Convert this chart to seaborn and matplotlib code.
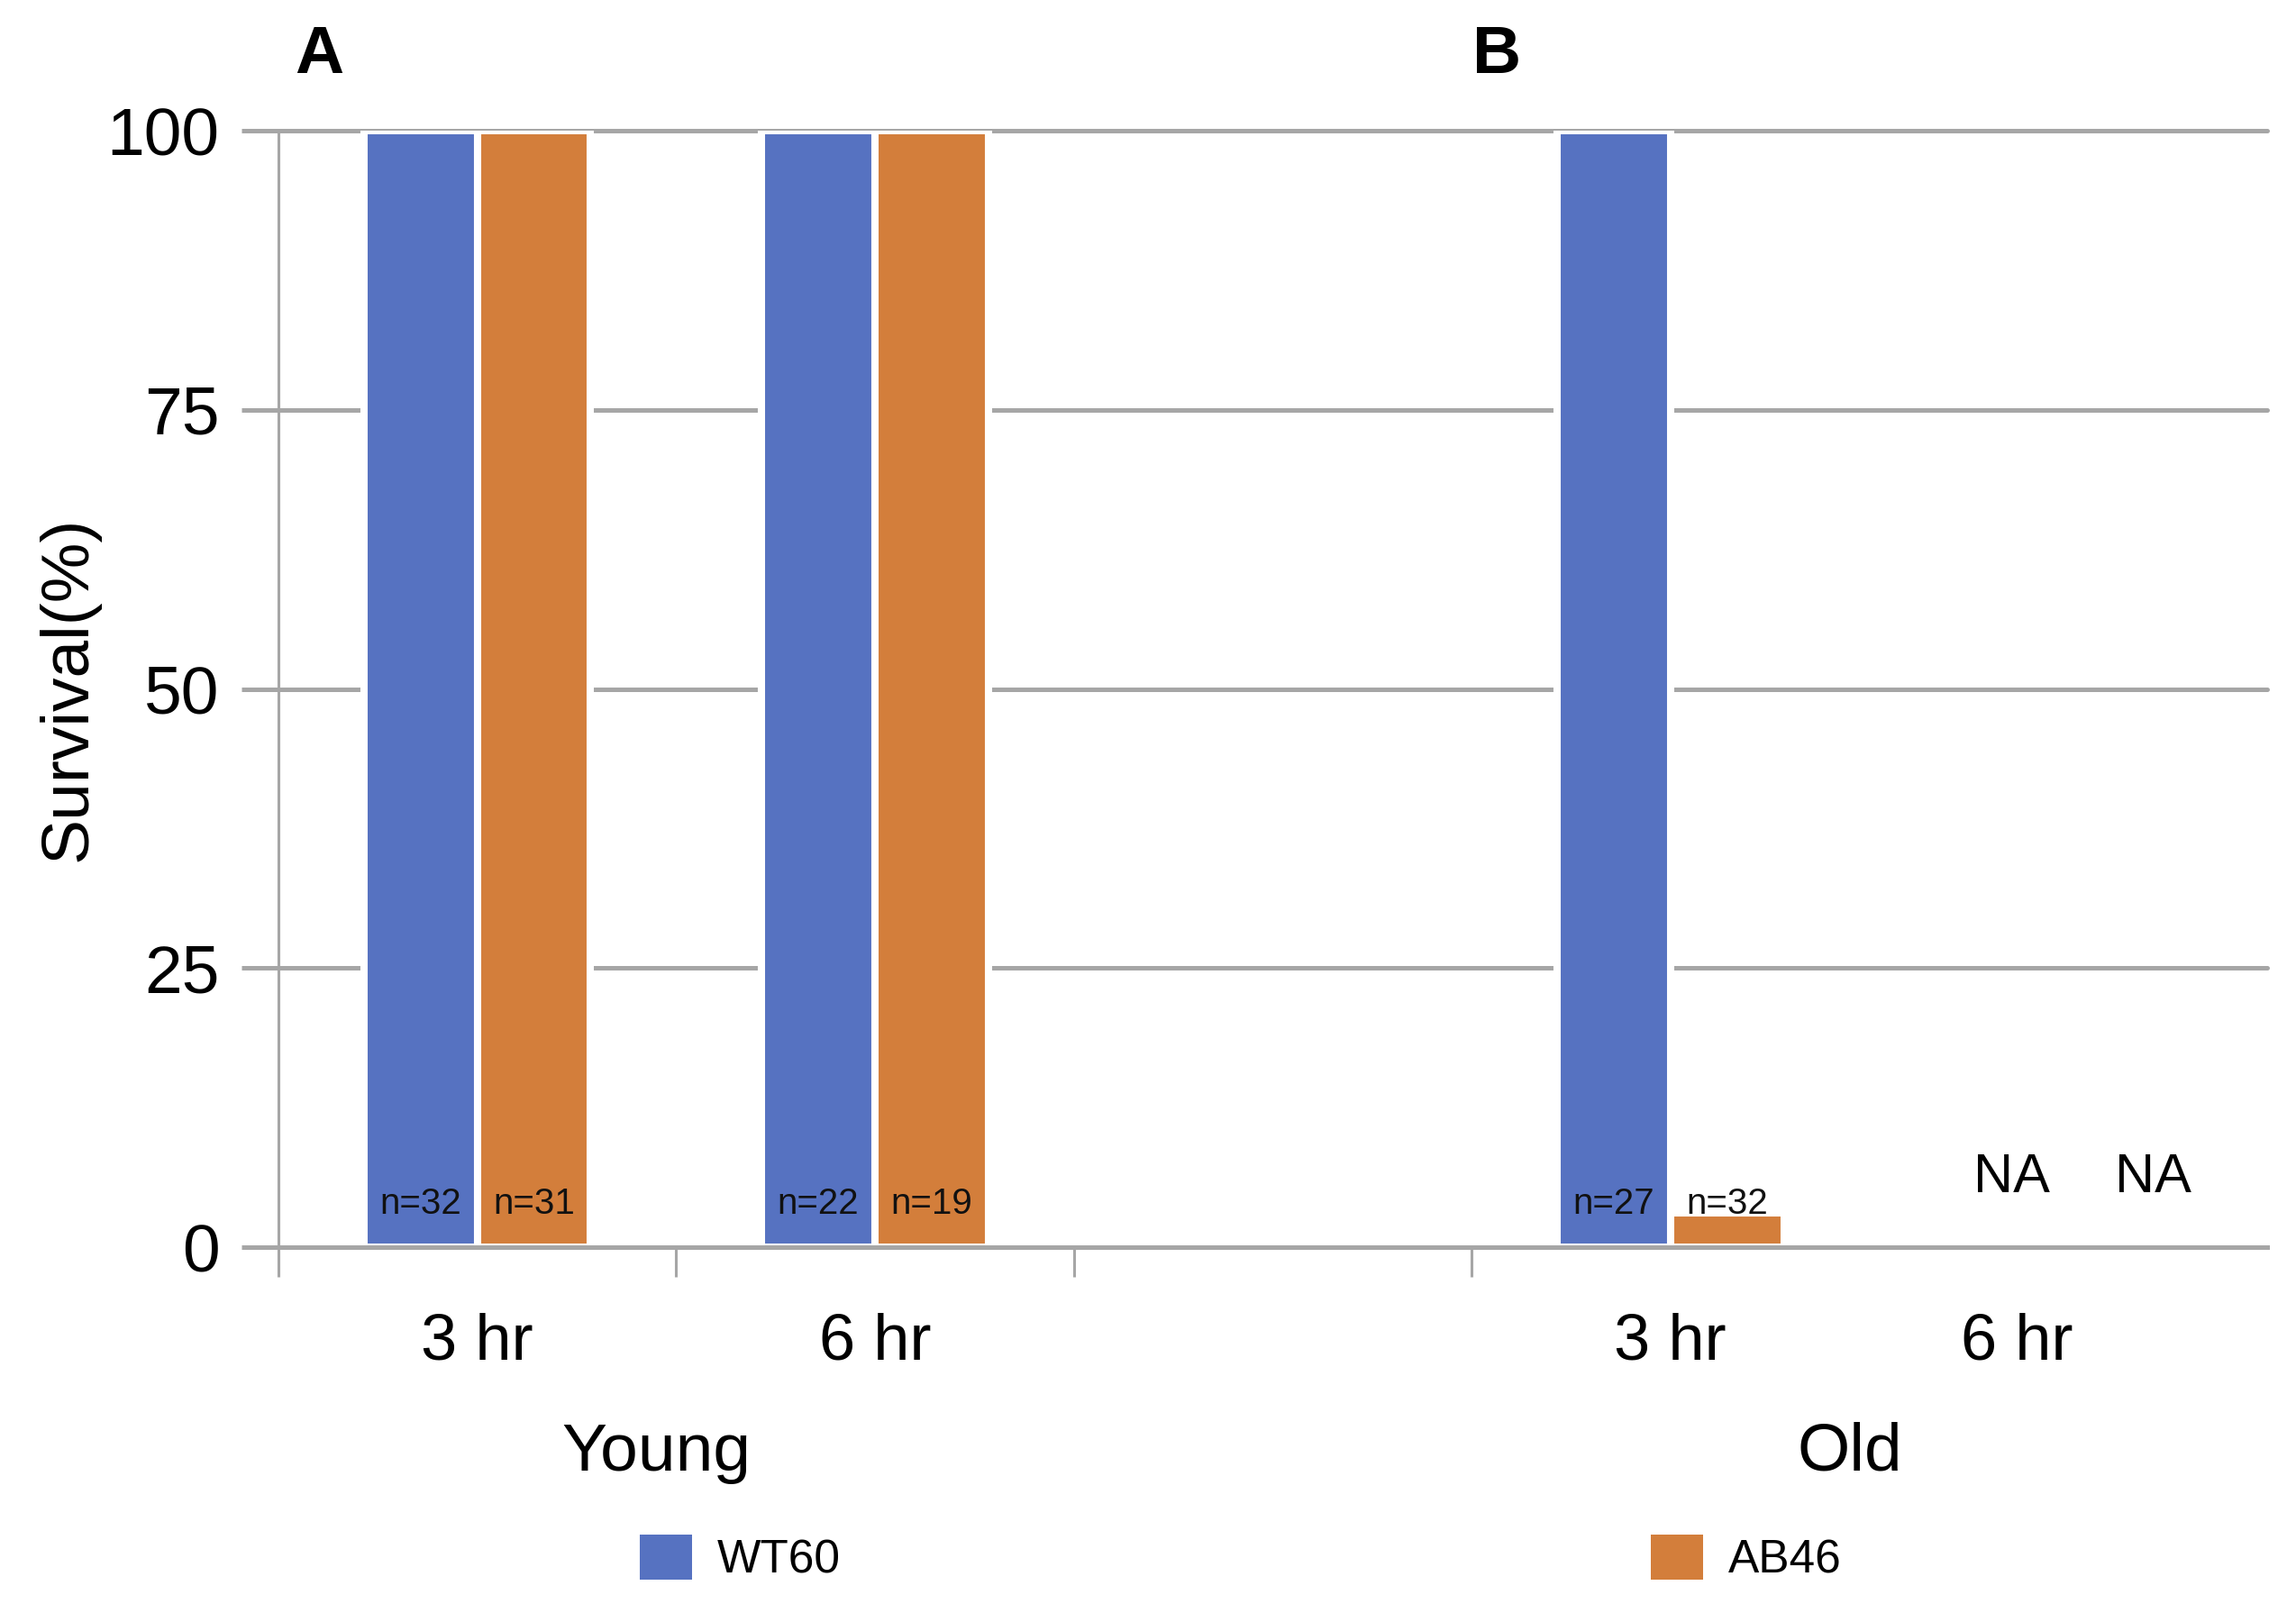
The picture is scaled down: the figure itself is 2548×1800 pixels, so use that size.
import numpy as np
import pandas as pd
import matplotlib
matplotlib.use('Agg')
import matplotlib.pyplot as plt
import matplotlib.transforms as mtransforms
from matplotlib.patches import Patch
import seaborn as sns

# ── data ────────────────────────────────────────────────────────────────
age     = ['Young', 'Young', 'Old', 'Old']
time    = ['3 hr', '6 hr', '3 hr', '6 hr']
wt60    = [100, 100, 100, np.nan]
ab46    = [100, 100, 3.1, np.nan]
n_wt60  = ['n=32', 'n=22', 'n=27', 'NA']
n_ab46  = ['n=31', 'n=19', 'n=32', 'NA']
strains = ['WT60', 'AB46']
colors  = ['#5672C1', '#D37E3B']
yticks  = [0, 25, 50, 75, 100]

slot  = [f'{a} {t}' for a, t in zip(age, time)]
order = slot[:2] + [''] + slot[2:]     # empty slot between the two age groups

df = pd.DataFrame({
    'slot':     slot * 2,
    'strain':   [strains[0]] * 4 + [strains[1]] * 4,
    'survival': wt60 + ab46,
})

GRID = '#A6A6A6'
BAR_WIDTH = 0.57

sns.set_style('white')
plt.rcParams['font.family'] = ['Liberation Sans', 'DejaVu Sans']
plt.rcParams.update({'text.color': 'black', 'axes.labelcolor': 'black',
                     'xtick.color': 'black', 'ytick.color': 'black'})

fig = plt.figure(figsize=(12.74, 9), dpi=200)
ax = fig.add_axes([0.1212, 0.2311, 0.8662, 0.6883])

sns.barplot(data=df, x='slot', y='survival', hue='strain',
            order=order, hue_order=strains, palette=colors,
            width=BAR_WIDTH, saturation=1, errorbar=None,
            edgecolor='white', linewidth=2.9, legend=False, ax=ax)

ax.set_xlim(-0.5, len(order) - 0.5)
ax.set_ylim(0, 100)

# y axis
ax.set_yticks(yticks)
ax.tick_params(axis='y', left=True, length=14.6, width=1.8, color=GRID, pad=9,
               labelsize=27, labelcolor='black')
ax.yaxis.grid(True, color=GRID, linewidth=1.8)
ax.set_axisbelow(True)
for gl in ax.yaxis.get_gridlines():
    gl.set_clip_on(False)
ax.set_ylabel('Survival(%)', fontsize=27, color='black')
ax.yaxis.set_label_coords(-0.090, 0.5)

# x axis: separator ticks between slots, labels at slot centres
ax.set_xticks(np.arange(len(order) - 1) - 0.5)
ax.set_xticklabels([])
ax.tick_params(axis='x', which='major', bottom=True, length=11.7, width=1.1,
               color=GRID, direction='out')
lab_pos = [order.index(s) for s in slot]
lab_pos[-1] -= 0.13
ax.set_xticks(lab_pos, minor=True)
ax.set_xticklabels(time, minor=True)
ax.tick_params(axis='x', which='minor', bottom=True, length=0, pad=26,
               labelsize=26, labelcolor='black')
ax.set_xlabel('')

for side in ['top', 'right']:
    ax.spines[side].set_visible(False)
ax.spines['left'].set_color(GRID)
ax.spines['left'].set_linewidth(1.1)
ax.spines['bottom'].set_color(GRID)
ax.spines['bottom'].set_linewidth(1.8)

# group labels under the time labels
trans = mtransforms.blended_transform_factory(ax.transData, fig.transFigure)
for g in ['Young', 'Old']:
    xs = [order.index(s) for s, a in zip(slot, age) if a == g]
    ax.text(np.mean(xs) - 0.05, 0.1044, g, transform=trans,
            ha='center', va='center', fontsize=27, color='black')

# n= labels and NA marks
for k, labels in enumerate([n_wt60, n_ab46]):
    off = (k - 0.5) * BAR_WIDTH / 2
    for s, lab in zip(slot, labels):
        x = order.index(s) + off
        if lab == 'NA':
            ax.text(x + 0.07 * k, 6.2, lab, ha='center', va='center',
                    fontsize=22, color='black')
        else:
            ax.text(x, 3.9, lab, ha='center', va='center',
                    fontsize=14.5, color='#111111')

# panel letters
fig.text(0.139, 0.9656, 'A', fontsize=27, fontweight='bold', ha='center', va='center')
fig.text(0.652, 0.9656, 'B', fontsize=27, fontweight='bold', ha='center', va='center')

# legend
handles = [Patch(facecolor=c, edgecolor='none') for c in colors]
fig.legend(handles, strains, ncol=2, loc='center left',
           bbox_to_anchor=(0.2787, 0.039), frameon=False, fontsize=18.5,
           handlelength=1.12, handleheight=1.12, handletextpad=0.55,
           columnspacing=17.5, borderpad=0, borderaxespad=0)

fig.savefig('out.png', dpi=200)
plt.close(fig)
